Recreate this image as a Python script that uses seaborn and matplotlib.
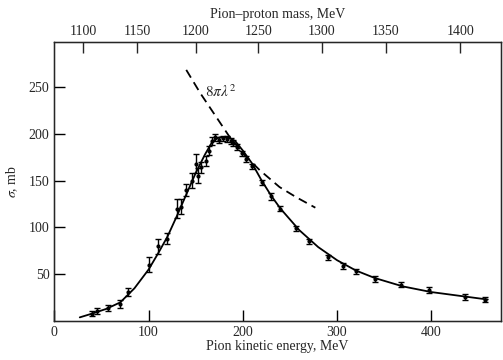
import numpy as np
import pandas as pd
import matplotlib
matplotlib.use("Agg")
import matplotlib.pyplot as plt
import seaborn as sns

# measured points (pion kinetic energy MeV, cross section mb, error)
energy = [40, 45, 57, 70, 78, 100, 110, 120, 130, 134, 140, 146, 150, 152, 156, 161,
          164, 167, 171, 175, 179, 183, 187, 190, 194, 199, 203, 210, 220, 230, 240,
          256, 270, 290, 306, 320, 340, 368, 398, 436, 457]
sigma = [8, 11, 14, 18, 31, 60, 80, 88, 120, 122, 140, 150, 168, 155, 164, 171,
         182, 192, 196, 193, 195, 194, 192, 190, 186, 179, 173, 165, 148, 133, 120,
         99, 85, 68, 59, 53, 45, 39, 33, 26, 23]
err = [3, 3, 3, 4, 4, 8, 8, 6, 10, 8, 6, 8, 10, 8, 6, 5,
       5, 4, 4, 3, 3, 3, 3, 3, 3, 3, 3, 3, 3, 4, 3,
       3, 3, 3, 3, 3, 3, 3, 3, 3, 3]

# smooth fit curve through the data
fit_e = [27, 40, 55, 70, 85, 100, 110, 120, 130, 140, 150, 160, 168, 175, 185,
         192, 200, 210, 220, 230, 240, 260, 280, 300, 320, 340, 370, 400, 430, 460]
fit_s = [4, 8, 13, 20, 35, 55, 72, 90, 112, 135, 158, 178, 192, 196, 196,
         192, 182, 168, 150, 134, 120, 97, 79, 65, 54, 46, 37, 31, 27, 23]

# 8 pi lambda^2 dashed curve
lam_e = [140, 155, 169, 185, 200, 218, 239, 257, 277]
lam_s = [268, 243, 222, 198, 179, 161, 143, 132, 121]

# top axis: pion-proton mass ticks and their kinetic energy positions
mass_labels = ['1100', '1150', '1200', '1250', '1300', '1350', '1400']
mass_pos = [30.6, 88, 150, 216.3, 283.6, 351.6, 430.7]

sns.set_style('ticks')
plt.rcParams['font.family'] = ['Liberation Serif', 'DejaVu Serif']
plt.rcParams['mathtext.fontset'] = 'stix'
plt.rcParams['font.size'] = 10

fig = plt.figure(figsize=(5.03, 3.6), dpi=100)
ax = fig.add_axes([0.108, 0.108, 0.888, 0.776])

fit = pd.DataFrame({'T': fit_e, 's': fit_s})
lam = pd.DataFrame({'T': lam_e, 's': lam_s})
sns.lineplot(data=fit, x='T', y='s', ax=ax, color='black', lw=1.3, sort=False)
sns.lineplot(data=lam, x='T', y='s', ax=ax, color='black', lw=1.3, sort=False,
             dashes=False, linestyle=(0, (5, 3)))
ax.errorbar(energy, sigma, yerr=err, fmt='o', ms=2, color='black',
            ecolor='black', elinewidth=1.0, capsize=2, capthick=1.0)

ax.text(160, 236, r'$8\pi\lambda^2$', fontsize=11, va='bottom')

ax.set_xlim(0, 474)
ax.set_ylim(0, 298)
ax.set_xticks([0, 100, 200, 300, 400])
ax.set_yticks([50, 100, 150, 200, 250])
ax.tick_params(direction='in', length=8, width=1, labelsize=10, color='black')
ax.set_xlabel('Pion kinetic energy, MeV', fontsize=10, labelpad=1)
ax.set_ylabel(r'$\sigma$, mb', fontsize=10, labelpad=6)
for s in ax.spines.values():
    s.set_linewidth(1.0)
    s.set_color('black')

top = ax.twiny()
top.set_xlim(ax.get_xlim())
top.set_xticks(mass_pos)
top.set_xticklabels(mass_labels)
top.tick_params(direction='in', length=8, width=1, labelsize=10, pad=3)
top.set_xlabel('Pion\u2013proton mass, MeV', fontsize=10, labelpad=5)

fig.savefig('out.png', dpi=100)
